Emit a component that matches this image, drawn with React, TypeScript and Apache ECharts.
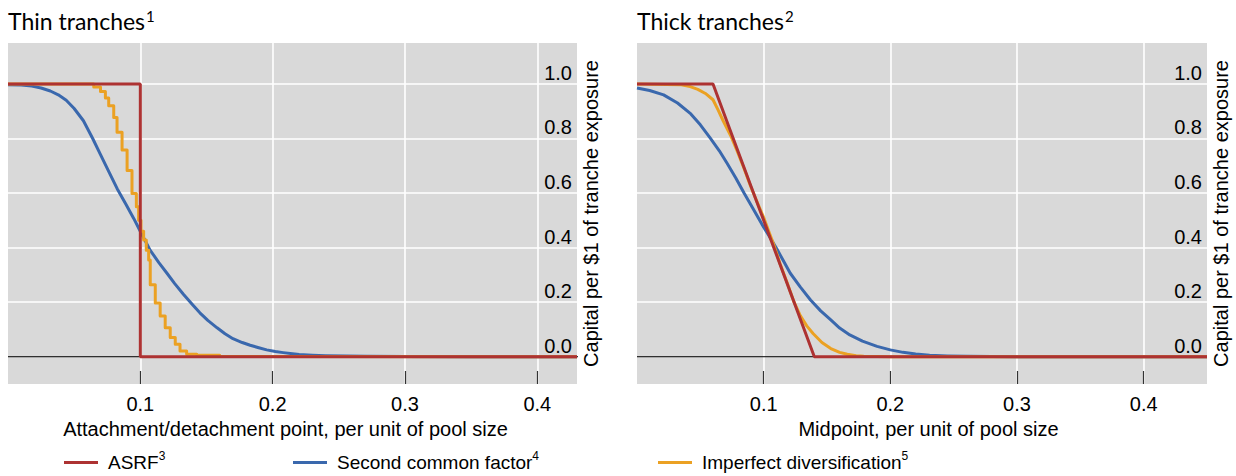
import React, { useEffect, useRef } from 'react';
import * as echarts from 'echarts';

const seriesNames = ['ASRF', 'Second common factor', 'Imperfect diversification'];
const seriesNotes = ['3', '4', '5'];
const seriesColors = ['#ad3232', '#3a68ad', '#eba123'];
const panelTitles = ['Thin tranches', 'Thick tranches'];
const titleNotes = ['1', '2'];
const xAxisNames = ['Attachment/detachment point, per unit of pool size', 'Midpoint, per unit of pool size'];
const yAxisName = 'Capital per $1 of tranche exposure';
const xTickValues = [0.1, 0.2, 0.3, 0.4];
const yLabelValues = [0, 0.2, 0.4, 0.6, 0.8, 1.0];
const yGridValues = [0.2, 0.4, 0.6, 0.8, 1.0];
const xMaxes = [0.43, 0.45];
const zeroLine: [number, number][] = [[0, 0], [0.45, 0]];

// Thin tranches
const thinAsrf: [number, number][] = [[0, 1], [0.1, 1], [0.1, 0], [0.43, 0]];
const thinSecond: [number, number][] = [
  [0, 0.997], [0.01, 0.996], [0.018, 0.992], [0.025, 0.985], [0.032, 0.974], [0.038, 0.96],
  [0.044, 0.94], [0.05, 0.91], [0.057, 0.865], [0.064, 0.8], [0.07, 0.74], [0.076, 0.68],
  [0.0825, 0.616], [0.089, 0.56], [0.095, 0.507], [0.101, 0.45], [0.1075, 0.39],
  [0.114, 0.345], [0.12, 0.307], [0.126, 0.268], [0.1327, 0.228], [0.139, 0.193],
  [0.145, 0.161], [0.151, 0.133], [0.158, 0.106], [0.164, 0.084], [0.17, 0.066],
  [0.177, 0.052], [0.183, 0.042], [0.1895, 0.033], [0.1955, 0.025], [0.202, 0.019],
  [0.208, 0.015], [0.215, 0.011], [0.22, 0.008], [0.23, 0.0055], [0.24, 0.004],
  [0.255, 0.0025], [0.27, 0.0015], [0.3, 0.0005], [0.35, 0], [0.43, 0],
];
const thinImperfect: [number, number][] = [
  [0, 1], [0.05, 1], [0.0648, 0.989], [0.0699, 0.972], [0.0736, 0.948], [0.0761, 0.92],
  [0.0799, 0.877], [0.0824, 0.823], [0.0862, 0.758], [0.09, 0.683], [0.0937, 0.598],
  [0.097, 0.55], [0.0987, 0.5], [0.1005, 0.46], [0.1025, 0.428], [0.1045, 0.39],
  [0.1063, 0.355], [0.1075, 0.264], [0.1113, 0.197], [0.115, 0.149], [0.1188, 0.106],
  [0.1226, 0.07], [0.1264, 0.046], [0.13, 0.021], [0.135, 0.009], [0.1427, 0.005],
  [0.16, 0.001], [0.2, 0], [0.43, 0],
];

// Thick tranches
const thickAsrf: [number, number][] = [[0, 1], [0.06, 1], [0.14, 0], [0.45, 0]];
const thickSecond: [number, number][] = [
  [0, 0.985], [0.01, 0.976], [0.021, 0.96], [0.032, 0.93], [0.0425, 0.89], [0.05, 0.85],
  [0.058, 0.8], [0.065, 0.755], [0.071, 0.71], [0.078, 0.655], [0.0845, 0.6], [0.092, 0.54],
  [0.1, 0.475], [0.106, 0.43], [0.111, 0.39], [0.116, 0.348], [0.121, 0.306], [0.129, 0.255],
  [0.137, 0.208], [0.145, 0.168], [0.153, 0.135], [0.16, 0.105], [0.168, 0.08], [0.178, 0.057],
  [0.1895, 0.038], [0.2, 0.025], [0.21, 0.016], [0.22, 0.01], [0.231, 0.005], [0.245, 0.003],
  [0.26, 0.0015], [0.3, 0], [0.45, 0],
];
const thickImperfect: [number, number][] = [
  [0, 1], [0.035, 0.997], [0.042, 0.99], [0.048, 0.98], [0.054, 0.965], [0.06, 0.942],
  [0.064, 0.905], [0.068, 0.865], [0.074, 0.81], [0.079, 0.755], [0.0845, 0.69],
  [0.0897, 0.625], [0.095, 0.565], [0.1, 0.51], [0.104, 0.46], [0.108, 0.41], [0.113, 0.34],
  [0.1186, 0.27], [0.124, 0.2], [0.129, 0.15], [0.134, 0.113], [0.139, 0.085], [0.146, 0.052],
  [0.153, 0.03], [0.16, 0.016], [0.166, 0.009], [0.173, 0.004], [0.179, 0.002], [0.2, 0],
  [0.45, 0],
];

const panelData = [
  { asrf: thinAsrf, second: thinSecond, imperfect: thinImperfect, step: true },
  { asrf: thickAsrf, second: thickSecond, imperfect: thickImperfect, step: false },
];

const FONT = '"Liberation Sans", Arial, sans-serif';
const TITLE_FONT = 'Lato, "Noto Sans", sans-serif';

export default function App() {
  const ref = useRef<HTMLDivElement>(null);
  useEffect(() => {
    if (!ref.current) return;
    const chart = echarts.init(ref.current, undefined, { renderer: 'svg' });
    const grids = [
      { left: 8, top: 43, width: 569, height: 341 },
      { left: 637, top: 43, width: 570, height: 341 },
    ].map((g) => ({ ...g, show: true, backgroundColor: '#d9d9d9', borderWidth: 0 }));

    const namePads = [[0, 14, 0, 0], [0, 0, 0, 13]];
    const xAxis = [0, 1].map((i) => ({
      type: 'value',
      gridIndex: i,
      min: 0,
      max: xMaxes[i],
      axisLine: { show: false, onZero: false },
      axisTick: { show: true, inside: true, length: 13, customValues: xTickValues, lineStyle: { color: '#333', width: 1.2 } },
      axisLabel: {
        customValues: xTickValues,
        margin: 10,
        fontSize: 20,
        color: '#000',
        fontFamily: FONT,
        formatter: (v: number) => v.toFixed(1),
      },
      splitLine: { show: true, lineStyle: { color: '#ffffff', width: 1.6 } },
      name: xAxisNames[i],
      nameLocation: 'middle',
      nameGap: 30,
      nameTextStyle: { fontSize: 20, color: '#000', fontFamily: FONT, padding: namePads[i] },
    }));

    const yAxis = [0, 1].map((i) => ({
      type: 'value',
      gridIndex: i,
      position: 'right',
      min: -0.1,
      max: 1.15,
      axisLine: { show: false, onZero: false },
      axisTick: { show: false, customValues: yGridValues },
      axisLabel: {
        inside: true,
        customValues: yLabelValues,
        margin: 5,
        verticalAlign: 'bottom',
        padding: [0, 0, 1, 0],
        fontSize: 20,
        color: '#000',
        fontFamily: FONT,
        formatter: (v: number) => v.toFixed(1),
      },
      splitLine: { show: true, lineStyle: { color: '#ffffff', width: 1.6 } },
      name: yAxisName,
      nameLocation: 'middle',
      nameRotate: 90,
      nameGap: 4,
      nameTextStyle: { fontSize: 20, color: '#000', fontFamily: FONT },
    }));

    const series: any[] = [];
    [0, 1].forEach((i) => {
      const d = panelData[i];
      series.push({
        type: 'line', name: 'zero', xAxisIndex: i, yAxisIndex: i, data: zeroLine,
        symbol: 'none', silent: true, lineStyle: { color: '#000', width: 1 }, z: 2,
      });
      series.push({
        type: 'line', name: seriesNames[1], xAxisIndex: i, yAxisIndex: i, data: d.second,
        symbol: 'none', smooth: false, lineStyle: { color: seriesColors[1], width: 3, join: 'round' },
        itemStyle: { color: seriesColors[1] }, z: 3,
      });
      series.push({
        type: 'line', name: seriesNames[2], xAxisIndex: i, yAxisIndex: i, data: d.imperfect,
        symbol: 'none', step: d.step ? 'end' : false, smooth: false,
        lineStyle: { color: seriesColors[2], width: 3, join: 'round' },
        itemStyle: { color: seriesColors[2] }, z: 4,
      });
      series.push({
        type: 'line', name: seriesNames[0], xAxisIndex: i, yAxisIndex: i, data: d.asrf,
        symbol: 'none', lineStyle: { color: seriesColors[0], width: 3 },
        itemStyle: { color: seriesColors[0] }, z: 5,
      });
    });

    const legendLefts = [64, 293, 658];
    const legend = seriesNames.map((n, k) => ({
      data: [n],
      left: legendLefts[k],
      top: 450,
      padding: 0,
      itemWidth: 34,
      itemHeight: 3,
      icon: 'rect',
      selectedMode: false,
      formatter: (name: string) => `{n|${name}}{s|${seriesNotes[k]}}`,
      textStyle: {
        rich: {
          n: { fontSize: 19, fontFamily: FONT, color: '#000', padding: [0, 0, 0, 5] },
          s: { fontSize: 12, fontFamily: FONT, color: '#000', padding: [0, 0, 13, 0] },
        },
      },
    }));

    const titleLefts = [8, 637];
    const title = panelTitles.map((t, k) => ({
      text: `{t|${t}}{s|${titleNotes[k]}}`,
      left: titleLefts[k],
      top: 8,
      padding: 0,
      textStyle: {
        fontWeight: 'normal',
        rich: {
          t: { fontFamily: TITLE_FONT, fontSize: 23, fontWeight: 'normal', color: '#000' },
          s: { fontFamily: TITLE_FONT, fontSize: 15, fontWeight: 'normal', color: '#000', padding: [0, 0, 11, 1] },
        },
      },
    }));

    chart.setOption({
      animation: false,
      title,
      legend,
      grid: grids,
      xAxis,
      yAxis,
      series,
    } as any);
    return () => chart.dispose();
  }, []);
  return (
    <div
      ref={ref}
      style={{ position: 'fixed', left: 0, top: 0, width: 1236, height: 476, background: '#fff' }}
    />
  );
}
